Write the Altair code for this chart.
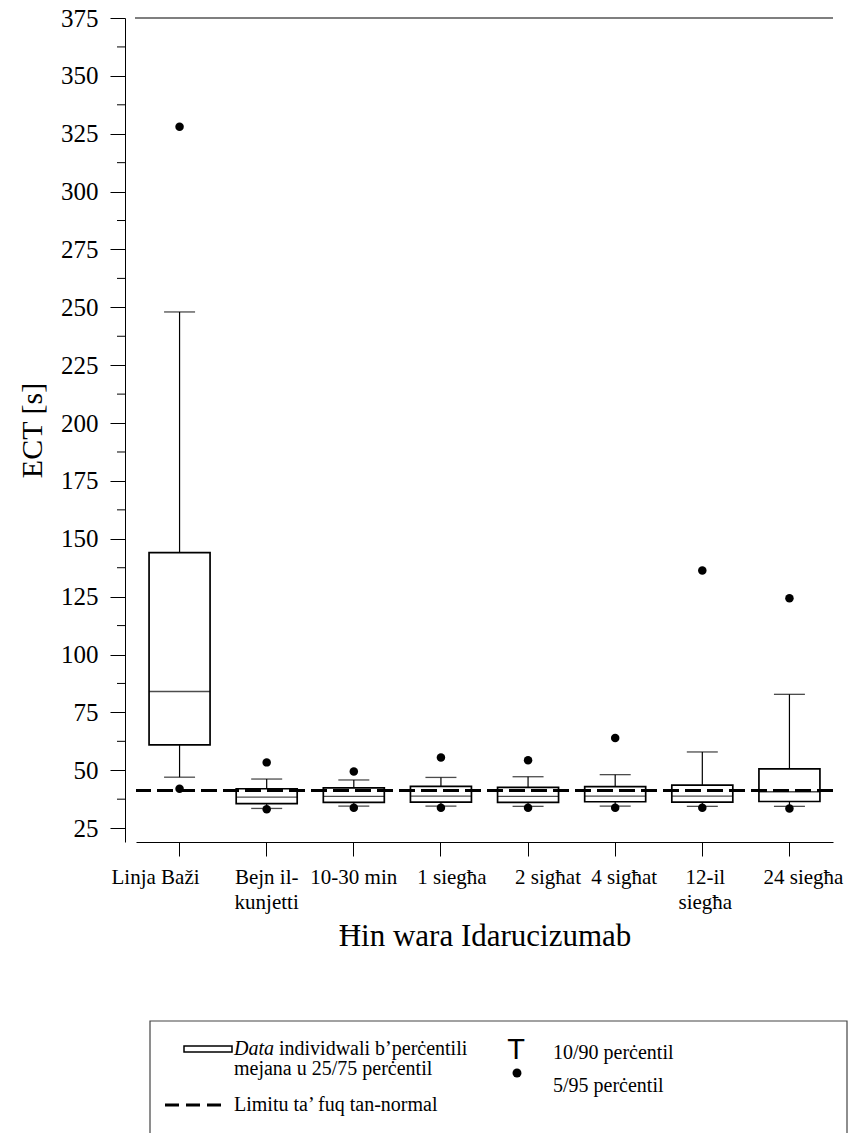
import altair as alt
import pandas as pd

# ---- data ----
categories = ["Linja Baži", "Bejn il-\nkunjetti", "10-30 min", "1 siegħa",
              "2 sigħat", "4 sigħat", "12-il\nsiegħa", "24 siegħa"]
p05 = [42.0, 33.2, 33.8, 33.8, 33.8, 33.8, 33.8, 33.5]
p10 = [47.0, 33.5, 34.5, 34.5, 34.4, 34.5, 34.4, 34.4]
q25 = [61.0, 35.6, 36.1, 36.2, 36.1, 36.4, 36.2, 36.5]
med = [84.0, 38.4, 38.7, 38.8, 38.7, 38.8, 38.8, 40.7]
q75 = [144.0, 42.0, 42.4, 43.0, 42.6, 42.9, 43.6, 50.6]
p90 = [248.0, 46.2, 45.8, 46.9, 47.2, 48.1, 57.9, 82.8]
p95 = [328.0, 53.4, 49.5, 55.5, 54.3, 63.9, 136.3, 124.3]
upper_normal_limit = [41.3]
axis_top = [375]
major_ticks = [25, 50, 75, 100, 125, 150, 175, 200, 225, 250, 275, 300, 325, 350, 375]
minor_ticks = [37.5, 62.5, 87.5, 112.5, 137.5, 162.5, 187.5, 212.5, 237.5, 262.5,
               287.5, 312.5, 337.5, 362.5]
# horizontal shift of some category labels relative to their tick (as in the reference)
label_shift = {"Linja Baži": -24, "1 siegħa": 11, "2 sigħat": 20, "4 sigħat": 9,
               "12-il\nsiegħa": 3, "24 siegħa": 14}

df = pd.DataFrame({"cat": categories, "p05": p05, "p10": p10, "q25": q25,
                   "med": med, "q75": q75, "p90": p90, "p95": p95})

FONT = "Liberation Serif, Times New Roman, serif"
W, H = 697, 824

yscale = alt.Scale(domain=[19, 375], nice=False, zero=False)
yaxis = alt.Axis(values=major_ticks, offset=11, tickSize=15, tickColor="black",
                 domainColor="black", labelColor="black", labelFont=FONT,
                 labelFontSize=25, labelPadding=12, grid=False,
                 title="ECT [s]", titleFont=FONT, titleFontSize=30,
                 titleFontWeight="normal", titleColor="black", titlePadding=13)

offset_cond = {
    "condition": [
        {"test": "datum.value === " + repr(k).replace("\n", "\\n"), "value": v}
        for k, v in label_shift.items()
    ],
    "value": 0,
}
xaxis = alt.Axis(labelExpr="split(datum.label, '\\n')", labelAngle=0,
                 labelFont=FONT, labelFontSize=21, labelColor="black",
                 labelLineHeight=25, labelPadding=10, tickSize=14,
                 labelOffset=offset_cond,
                 tickColor="black", domainColor="black", grid=False,
                 title="Ħin wara Idarucizumab", titleFont=FONT,
                 titleFontSize=31, titleFontWeight="normal",
                 titleColor="black", titlePadding=9)
xenc = alt.X("cat:N", sort=categories,
             scale=alt.Scale(paddingInner=0, paddingOuter=0), axis=xaxis)


def Y(field):
    return alt.Y(f"{field}:Q", scale=yscale, axis=yaxis)


base = alt.Chart(df).encode(x=xenc)

whisk_hi = base.mark_rule(color="black", strokeWidth=1.2).encode(y=Y("q75"), y2="p90")
whisk_lo = base.mark_rule(color="black", strokeWidth=1.2).encode(y=Y("p10"), y2="q25")
cap_hi = base.mark_tick(color="black", size=31, thickness=1.3).encode(y=Y("p90"))
cap_lo = base.mark_tick(color="black", size=31, thickness=1.3).encode(y=Y("p10"))
box = base.mark_bar(size=61, fill="white", stroke="black", strokeWidth=1.7).encode(
    y=Y("q25"), y2="q75")
median = base.mark_tick(color="black", size=61, thickness=1.4).encode(y=Y("med"))
dot_hi = base.mark_circle(color="black", size=72, opacity=1).encode(y=Y("p95"))
dot_lo = base.mark_circle(color="black", size=72, opacity=1).encode(y=Y("p05"))

limit = alt.Chart(pd.DataFrame({"limit": upper_normal_limit})).mark_rule(
    color="black", strokeWidth=3, strokeDash=[16, 6]).encode(y=Y("limit"))

top_line = alt.Chart(pd.DataFrame({"top": axis_top})).mark_rule(
    color="black", strokeWidth=1.2).encode(y=Y("top"), x=alt.value(-1), x2=alt.value(W))

minor = alt.Chart(pd.DataFrame({"m": minor_ticks})).mark_rule(
    color="black", strokeWidth=1).encode(y=Y("m"), x=alt.value(-19), x2=alt.value(-11))

# ---- legend (drawn below the plot) ----
one = alt.Chart(pd.DataFrame({"a": [0]}))
leg_frame = one.mark_rect(fill="white", fillOpacity=0, stroke="#444", strokeWidth=1.2).encode(
    x=alt.value(14), x2=alt.value(711), y=alt.value(1003), y2=alt.value(1130))
leg_box = one.mark_rect(fill="white", stroke="black", strokeWidth=1.5).encode(
    x=alt.value(48), x2=alt.value(96), y=alt.value(1028), y2=alt.value(1034))
leg_dash = one.mark_rule(color="black", strokeWidth=3, strokeDash=[14, 7]).encode(
    x=alt.value(29), x2=alt.value(88), y=alt.value(1087))
txt = dict(font=FONT, fontSize=20, color="black", align="left", baseline="middle")
leg_t1a = one.mark_text(text="Data", fontStyle="italic", **txt).encode(
    x=alt.value(98), y=alt.value(1031))
leg_t1b = one.mark_text(text="individwali b’perċentili", **txt).encode(
    x=alt.value(143), y=alt.value(1031))
leg_t2 = one.mark_text(text="mejana u 25/75 perċentil", **txt).encode(
    x=alt.value(98), y=alt.value(1051))
leg_t3 = one.mark_text(text="Limitu ta’ fuq tan-normal", **txt).encode(
    x=alt.value(98), y=alt.value(1087))
leg_T = one.mark_text(text="T", font="Liberation Sans, Arial, sans-serif", fontSize=29,
                      color="black", align="center", baseline="middle").encode(
    x=alt.value(380), y=alt.value(1032))
leg_dot = one.mark_circle(color="black", size=80, opacity=1).encode(
    x=alt.value(381), y=alt.value(1055))
leg_t4 = one.mark_text(text="10/90 perċentil", **txt).encode(
    x=alt.value(417), y=alt.value(1035))
leg_t5 = one.mark_text(text="5/95 perċentil", **txt).encode(
    x=alt.value(417), y=alt.value(1068))

chart = alt.layer(
    top_line, minor, whisk_hi, whisk_lo, cap_hi, cap_lo, box, median,
    limit, dot_hi, dot_lo,
    leg_frame, leg_box, leg_dash, leg_t1a, leg_t1b, leg_t2, leg_t3,
    leg_T, leg_dot, leg_t4, leg_t5,
).properties(
    width=W, height=H,
    autosize=alt.AutoSizeParams(type="none"),
    padding={"left": 136, "top": 18, "right": 16, "bottom": 291},
    background="white",
).configure_view(stroke=None)

chart.save("out.html", embed_options={"renderer": "svg", "actions": False})
